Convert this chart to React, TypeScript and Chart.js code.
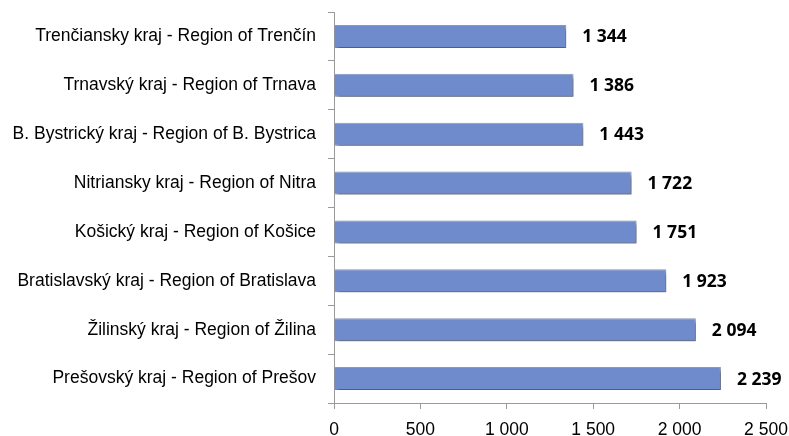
import React, { useEffect, useRef } from "react";
import { Chart, registerables } from "chart.js";

Chart.register(...registerables);

const categories = [
  "Trenčiansky kraj - Region of Trenčín",
  "Trnavský kraj - Region of Trnava",
  "B. Bystrický kraj - Region of B. Bystrica",
  "Nitriansky kraj - Region of Nitra",
  "Košický kraj - Region of Košice",
  "Bratislavský kraj - Region of Bratislava",
  "Žilinský kraj - Region of Žilina",
  "Prešovský kraj - Region of Prešov",
];
const values = [1344, 1386, 1443, 1722, 1751, 1923, 2094, 2239];
const xTicks = [0, 500, 1000, 1500, 2000, 2500];

const fmt = (v: number) => String(v).replace(/\B(?=(\d{3})+(?!\d))/g, " ");

const shadowPlugin = {
  id: "barShadow",
  beforeDatasetsDraw(chart: any) {
    const ctx = chart.ctx;
    ctx.save();
    ctx.shadowColor = "rgba(0,0,0,0.45)";
    ctx.shadowOffsetX = 2;
    ctx.shadowOffsetY = 3;
    ctx.shadowBlur = 4;
  },
  afterDatasetsDraw(chart: any) {
    chart.ctx.restore();
    const ctx = chart.ctx;
    const meta = chart.getDatasetMeta(0);
    ctx.save();
    ctx.font = "bold 17.5px 'Open Sans'";
    ctx.fillStyle = "#000";
    ctx.textBaseline = "middle";
    ctx.textAlign = "left";
    meta.data.forEach((bar: any, i: number) => {
      ctx.fillText(fmt(values[i]), bar.x + 16, bar.y + 1);
    });
    ctx.restore();
  },
};

export default function App() {
  const ref = useRef<HTMLCanvasElement>(null);
  useEffect(() => {
    const chart = new Chart(ref.current!, {
      type: "bar",
      data: {
        labels: categories,
        datasets: [
          {
            data: values,
            backgroundColor: "#6f8bcb",
            borderColor: "#8c9cc0",
            borderWidth: 1,
            barPercentage: 0.47,
            categoryPercentage: 1,
          },
        ],
      },
      options: {
        indexAxis: "y",
        animation: false,
        responsive: false,
        layout: { padding: { top: 12, right: 23, left: 0, bottom: 0 } },
        plugins: { legend: { display: false }, tooltip: { enabled: false } },
        scales: {
          x: {
            min: 0,
            max: 2500,
            afterBuildTicks: (axis: any) => {
              axis.ticks = xTicks.map((v) => ({ value: v }));
            },
            afterFit: (axis: any) => {
              axis.height = 33;
              axis.paddingLeft = 0;
              axis.paddingRight = 0;
            },
            grid: {
              drawOnChartArea: false,
              drawTicks: true,
              tickLength: 6,
              color: "#9a9a9a",
            },
            border: { color: "#9a9a9a", width: 1 },
            ticks: {
              padding: 11,
              color: "#000",
              font: { family: "'Liberation Sans', Arial", size: 17.5 },
              callback: (v: any) => fmt(Number(v)),
            },
          },
          y: {
            afterFit: (axis: any) => {
              axis.width = 334;
              axis.paddingTop = 0;
              axis.paddingBottom = 0;
            },
            grid: {
              drawOnChartArea: false,
              drawTicks: true,
              tickLength: 6,
              offset: true,
              color: "#9a9a9a",
            },
            border: { color: "#9a9a9a", width: 1 },
            ticks: {
              padding: 12,
              color: "#000",
              font: { family: "'Liberation Sans', Arial", size: 17.5 },
            },
          },
        },
      },
      plugins: [shadowPlugin],
    });
    return () => chart.destroy();
  }, []);
  return (
    <div style={{ position: "fixed", left: 0, top: 0, width: 789, height: 436, background: "#fff" }}>
      <canvas ref={ref} width={789} height={436} />
    </div>
  );
}
